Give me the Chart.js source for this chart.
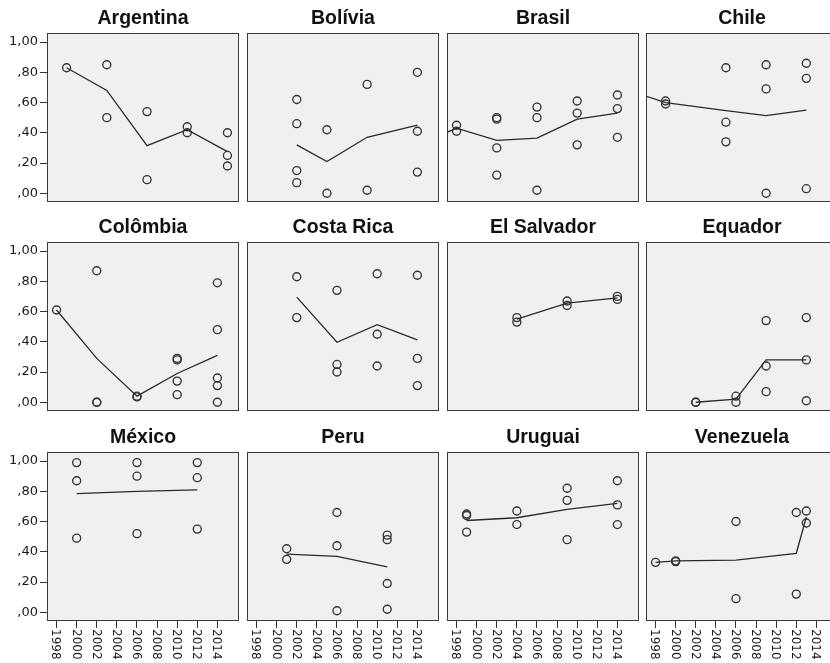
<!DOCTYPE html>
<html>
<head>
<meta charset="utf-8">
<script src="https://cdn.jsdelivr.net/npm/chart.js@4.4.1/dist/chart.umd.min.js"></script>
<style>
  html, body { margin: 0; padding: 0; background: #ffffff; overflow: hidden; }
  #grid { position: relative; width: 830px; height: 663px; overflow: hidden; }
  #grid canvas { position: absolute; }
</style>
</head>
<body>
<div id="grid"></div>
<script>
// Panels, in reading order
const countries = ['Argentina', 'Bolívia', 'Brasil', 'Chile',
                   'Colômbia', 'Costa Rica', 'El Salvador', 'Equador',
                   'México', 'Peru', 'Uruguai', 'Venezuela'];

// Axis ticks
const yearTicks = [1998, 2000, 2002, 2004, 2006, 2008, 2010, 2012, 2014];
const shareTicks = [0, 0.2, 0.4, 0.6, 0.8, 1.0];

// Observations per election: [year, value]
const argentinaPoints = [[1999, 0.83], [2003, 0.85], [2003, 0.50], [2007, 0.54], [2007, 0.09],
                         [2011, 0.44], [2011, 0.40], [2015, 0.40], [2015, 0.25], [2015, 0.18]];
const boliviaPoints = [[2002, 0.62], [2002, 0.46], [2002, 0.15], [2002, 0.07], [2005, 0.42], [2005, 0.00],
                       [2009, 0.72], [2009, 0.02], [2014, 0.80], [2014, 0.41], [2014, 0.14]];
const brasilPoints = [[1998, 0.45], [1998, 0.41], [2002, 0.50], [2002, 0.49], [2002, 0.30], [2002, 0.12],
                      [2006, 0.57], [2006, 0.50], [2006, 0.02], [2010, 0.61], [2010, 0.53], [2010, 0.32],
                      [2014, 0.65], [2014, 0.56], [2014, 0.37]];
const chilePoints = [[1999, 0.61], [1999, 0.59], [2005, 0.83], [2005, 0.47], [2005, 0.34],
                     [2009, 0.85], [2009, 0.69], [2009, 0.00], [2013, 0.86], [2013, 0.76], [2013, 0.03]];
const colombiaPoints = [[1998, 0.61], [2002, 0.87], [2002, 0.00], [2002, 0.00], [2006, 0.04], [2006, 0.035],
                        [2010, 0.29], [2010, 0.28], [2010, 0.14], [2010, 0.05],
                        [2014, 0.79], [2014, 0.48], [2014, 0.16], [2014, 0.11], [2014, 0.00]];
const costaRicaPoints = [[2002, 0.83], [2002, 0.56], [2006, 0.74], [2006, 0.25], [2006, 0.20],
                         [2010, 0.85], [2010, 0.45], [2010, 0.24], [2014, 0.84], [2014, 0.29], [2014, 0.11]];
const elSalvadorPoints = [[2004, 0.56], [2004, 0.53], [2009, 0.67], [2009, 0.64], [2014, 0.70], [2014, 0.68]];
const equadorPoints = [[2002, 0.00], [2002, 0.00], [2006, 0.04], [2006, 0.00],
                       [2009, 0.54], [2009, 0.24], [2009, 0.07], [2013, 0.56], [2013, 0.28], [2013, 0.01]];
const mexicoPoints = [[2000, 0.99], [2000, 0.87], [2000, 0.49], [2006, 0.99], [2006, 0.90], [2006, 0.52],
                      [2012, 0.99], [2012, 0.89], [2012, 0.55]];
const peruPoints = [[2001, 0.42], [2001, 0.35], [2006, 0.66], [2006, 0.44], [2006, 0.01],
                    [2011, 0.51], [2011, 0.48], [2011, 0.19], [2011, 0.02]];
const uruguaiPoints = [[1999, 0.65], [1999, 0.64], [1999, 0.53], [2004, 0.67], [2004, 0.58],
                       [2009, 0.82], [2009, 0.74], [2009, 0.48], [2014, 0.87], [2014, 0.71], [2014, 0.58]];
const venezuelaPoints = [[1998, 0.33], [2000, 0.34], [2000, 0.335], [2006, 0.60], [2006, 0.09],
                         [2012, 0.66], [2012, 0.12], [2013, 0.67], [2013, 0.59]];

// Mean per election year (the connecting line)
const argentinaMeans = [[1999, 0.83], [2003, 0.68], [2007, 0.315], [2011, 0.42], [2015, 0.275]];
const boliviaMeans = [[2002, 0.32], [2005, 0.21], [2009, 0.37], [2014, 0.45]];
const brasilMeans = [[1994, 0.32], [1998, 0.43], [2002, 0.35], [2006, 0.365], [2010, 0.49], [2014, 0.53]];
const chileMeans = [[1993, 0.73], [1999, 0.60], [2005, 0.547], [2009, 0.513], [2013, 0.55]];
const colombiaMeans = [[1998, 0.61], [2002, 0.29], [2006, 0.04], [2010, 0.19], [2014, 0.31]];
const costaRicaMeans = [[2002, 0.695], [2006, 0.397], [2010, 0.513], [2014, 0.413]];
const elSalvadorMeans = [[2004, 0.55], [2009, 0.655], [2014, 0.69]];
const equadorMeans = [[2002, 0.00], [2006, 0.02], [2009, 0.28], [2013, 0.28]];
const mexicoMeans = [[2000, 0.785], [2006, 0.80], [2012, 0.81]];
const peruMeans = [[2001, 0.385], [2006, 0.37], [2011, 0.30]];
const uruguaiMeans = [[1999, 0.607], [2004, 0.625], [2009, 0.68], [2014, 0.72]];
const venezuelaMeans = [[1998, 0.33], [2000, 0.34], [2006, 0.345], [2012, 0.39], [2013, 0.63]];

const countryPoints = [argentinaPoints, boliviaPoints, brasilPoints, chilePoints,
                       colombiaPoints, costaRicaPoints, elSalvadorPoints, equadorPoints,
                       mexicoPoints, peruPoints, uruguaiPoints, venezuelaPoints];
const countryMeans = [argentinaMeans, boliviaMeans, brasilMeans, chileMeans,
                      colombiaMeans, costaRicaMeans, elSalvadorMeans, equadorMeans,
                      mexicoMeans, peruMeans, uruguaiMeans, venezuelaMeans];

// Grid geometry (plot frame of each panel)
const COL_LEFT = [47, 247, 447, 646];
const ROW_TOP = [33, 242, 452];
const FRAME_W = 192, FRAME_H = 169;
const Y_AXIS_W = 47, TITLE_SPACE = 33, X_AXIS_H = 42;
const INK = '#333333';

Chart.defaults.font.family = '"DejaVu Sans", sans-serif';

const toXY = pairs => pairs.map(([x, y]) => ({ x, y }));
const shareLabel = v => {
  const s = Number(v).toFixed(2).replace('.', ',');
  return s.startsWith('0') ? s.slice(1) : s;
};

// Frame fill, frame border, panel title and vertical year labels
const panelDecor = {
  id: 'panelDecor',
  beforeDraw(chart) {
    const a = chart.chartArea, ctx = chart.ctx;
    ctx.save();
    ctx.fillStyle = '#f0f0f0';
    ctx.fillRect(a.left, a.top, a.right - a.left, a.bottom - a.top);
    ctx.restore();
  },
  afterDraw(chart, args, opts) {
    const a = chart.chartArea, ctx = chart.ctx;
    ctx.save();
    ctx.strokeStyle = '#3a3a3a';
    ctx.lineWidth = 1;
    ctx.strokeRect(a.left + 0.5, a.top + 0.5, a.right - a.left - 1, a.bottom - a.top - 1);

    ctx.fillStyle = '#111111';
    ctx.font = 'bold 19.5px "Liberation Sans", Arial, sans-serif';
    ctx.textAlign = 'center';
    ctx.textBaseline = 'alphabetic';
    ctx.fillText(opts.title, (a.left + a.right) / 2, a.top - 9);

    if (opts.yearLabels) {
      const xs = chart.scales.x;
      ctx.font = '12px "DejaVu Sans", sans-serif';
      ctx.fillStyle = '#1a1a1a';
      ctx.textAlign = 'left';
      ctx.textBaseline = 'middle';
      xs.ticks.forEach(t => {
        const px = xs.getPixelForValue(t.value);
        ctx.save();
        ctx.translate(px - 1, a.bottom + 8);
        ctx.rotate(Math.PI / 2);
        ctx.fillText(String(t.value), 0, 0);
        ctx.restore();
      });
    }
    ctx.restore();
  }
};

const grid = document.getElementById('grid');

countries.forEach((name, i) => {
  const row = Math.floor(i / 4), col = i % 4;
  const hasY = col === 0, hasX = row === 2;
  const w = (hasY ? Y_AXIS_W : 0) + FRAME_W;
  const h = TITLE_SPACE + FRAME_H + (hasX ? X_AXIS_H : 0);

  const canvas = document.createElement('canvas');
  canvas.width = w; canvas.height = h;
  canvas.style.width = w + 'px'; canvas.style.height = h + 'px';
  canvas.style.left = (hasY ? COL_LEFT[col] - Y_AXIS_W : COL_LEFT[col]) + 'px';
  canvas.style.top = (ROW_TOP[row] - TITLE_SPACE) + 'px';
  grid.appendChild(canvas);

  const xScale = {
    type: 'linear', min: 1997.05, max: 2016.15, display: hasX,
    afterBuildTicks: s => { s.ticks = yearTicks.map(v => ({ value: v })); },
    grid: { drawOnChartArea: false, drawTicks: true, tickLength: 7, color: INK, lineWidth: 1 },
    border: { display: false },
    ticks: { display: false }
  };
  if (hasX) xScale.afterFit = s => { s.height = X_AXIS_H; s.paddingLeft = 0; s.paddingRight = 0; };

  const yScale = {
    type: 'linear', min: -0.058, max: 1.06, display: hasY,
    afterBuildTicks: s => { s.ticks = shareTicks.map(v => ({ value: v })); },
    grid: { drawOnChartArea: false, drawTicks: true, tickLength: 7, color: INK, lineWidth: 1 },
    border: { display: false },
    ticks: { padding: 2, color: '#1a1a1a', font: { size: 13 }, callback: v => shareLabel(v) }
  };
  if (hasY) yScale.afterFit = s => { s.width = Y_AXIS_W; s.paddingTop = 0; s.paddingBottom = 0; };

  new Chart(canvas, {
    type: 'scatter',
    data: {
      datasets: [
        {
          data: toXY(countryMeans[i]),
          showLine: true,
          borderColor: '#2a2a2a',
          borderWidth: 1.3,
          pointRadius: 0,
          tension: 0
        },
        {
          data: toXY(countryPoints[i]),
          showLine: false,
          pointStyle: 'circle',
          pointRadius: 4,
          pointBorderWidth: 1.35,
          pointBorderColor: INK,
          pointBackgroundColor: 'rgba(0,0,0,0)'
        }
      ]
    },
    options: {
      responsive: false,
      animation: false,
      events: [],
      devicePixelRatio: 1,
      layout: { autoPadding: false, padding: { top: TITLE_SPACE, left: 0, right: 0, bottom: 0 } },
      scales: { x: xScale, y: yScale },
      plugins: {
        legend: { display: false },
        tooltip: { enabled: false },
        panelDecor: { title: name, yearLabels: hasX }
      }
    },
    plugins: [panelDecor]
  });
});
</script>
</body>
</html>
